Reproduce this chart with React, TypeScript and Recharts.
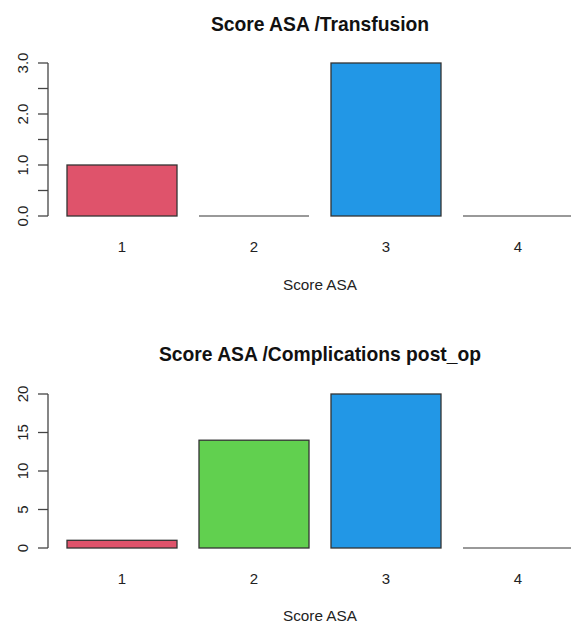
import { BarChart, Bar, XAxis, YAxis } from 'recharts';

const categories = ['1', '2', '3', '4'];
const transfusion = [1, 0, 3, 0];
const complications = [1, 14, 20, 0];
const barColors = ['#DF536B', '#61D04F', '#2297E6', '#28E2E5'];
const transfusionTicks = [0, 0.5, 1, 1.5, 2, 2.5, 3];
const complicationTicks = [0, 5, 10, 15, 20];

const FONT = '"Liberation Sans", Arial, sans-serif';
const INK = '#222';

// R draws zero-height bars as a flat border line, so do the same
function BarShape(props: any) {
  const { x, y, width, height, index } = props;
  if (!height) {
    return <line x1={x} x2={x + width} y1={y} y2={y} stroke="#777" strokeWidth={1.6} />;
  }
  return (
    <rect
      x={x}
      y={y}
      width={width}
      height={height}
      fill={barColors[index % barColors.length]}
      stroke="#333"
      strokeWidth={1.3}
    />
  );
}

function makeYTick(format: (v: number) => string) {
  return (props: any) => {
    const { x, y, payload } = props;
    const label = format(payload.value);
    const tx = x - 8;
    return (
      <text
        x={tx}
        y={y}
        transform={`rotate(-90, ${tx}, ${y})`}
        textAnchor="middle"
        fontSize={15}
        fontFamily={FONT}
        fill={INK}
      >
        {label}
      </text>
    );
  };
}

function XTick(props: any) {
  const { x, y, payload } = props;
  return (
    <text x={x} y={y + 36} textAnchor="middle" fontSize={15} fontFamily={FONT} fill={INK}>
      {payload.value}
    </text>
  );
}

interface PanelProps {
  title: string;
  values: number[];
  ticks: number[];
  format: (v: number) => string;
  top: number;
  height: number;
  marginTop: number;
  marginBottom: number;
  axisTitleY: number;
}

function Panel({ title, values, ticks, format, top, height, marginTop, marginBottom, axisTitleY }: PanelProps) {
  const data = categories.map((c, i) => ({ name: c, value: values[i] }));
  return (
    <div style={{ position: 'absolute', left: 0, top, width: 600, height }}>
      <div
        style={{
          position: 'absolute',
          left: 0,
          width: 640,
          top: 14,
          textAlign: 'center',
          fontWeight: 'bold',
          fontSize: 19.3,
          color: '#111',
          fontFamily: FONT,
        }}
      >
        {title}
      </div>
      <BarChart
        width={600}
        height={height}
        data={data}
        margin={{ top: marginTop, right: 8, left: 0, bottom: marginBottom }}
      >
        <XAxis
          dataKey="name"
          padding={{ left: 8, right: 8 }}
          axisLine={false}
          tickLine={false}
          tickSize={0}
          tickMargin={0}
          height={60}
          interval={0}
          tick={<XTick />}
        />
        <YAxis
          width={48}
          domain={[ticks[0], ticks[ticks.length - 1]]}
          ticks={ticks}
          interval={0}
          tickSize={10}
          tickMargin={2}
          axisLine={{ stroke: '#444', strokeWidth: 1.3 }}
          tickLine={{ stroke: '#444', strokeWidth: 1.3 }}
          tick={makeYTick(format)}
        />
        <Bar dataKey="value" barSize={110} shape={BarShape} isAnimationActive={false} />
      </BarChart>
      <div
        style={{
          position: 'absolute',
          left: 0,
          width: 640,
          top: axisTitleY - 9,
          textAlign: 'center',
          fontSize: 15.3,
          color: INK,
          fontFamily: FONT,
        }}
      >
        Score ASA
      </div>
    </div>
  );
}

export default function App() {
  return (
    <div
      style={{
        position: 'absolute',
        left: 0,
        top: 0,
        width: 571,
        height: 626,
        overflow: 'hidden',
        background: '#fff',
      }}
    >
      <Panel
        title="Score ASA /Transfusion"
        values={transfusion}
        ticks={transfusionTicks}
        format={(v) => (Number.isInteger(v) ? v.toFixed(1) : '')}
        top={0}
        height={330}
        marginTop={63}
        marginBottom={54}
        axisTitleY={285}
      />
      <Panel
        title="Score ASA /Complications post_op"
        values={complications}
        ticks={complicationTicks}
        format={(v) => String(v)}
        top={330}
        height={296}
        marginTop={64}
        marginBottom={18}
        axisTitleY={286}
      />
    </div>
  );
}
